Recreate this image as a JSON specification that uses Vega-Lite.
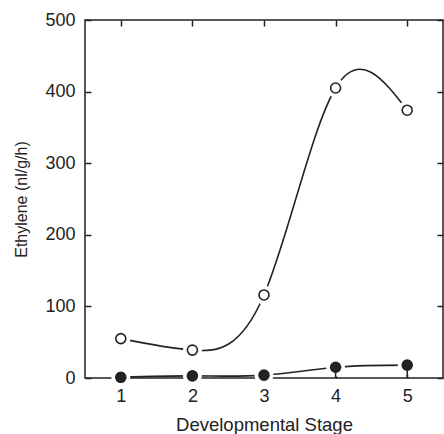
{
  "$schema": "https://vega.github.io/schema/vega-lite/v6.json",
  "width": 358,
  "height": 358,
  "autosize": "none",
  "padding": {"left": 85, "top": 20, "right": 1, "bottom": 56},
  "background": "white",
  "config": {
    "view": {"stroke": "#222", "strokeWidth": 1.5},
    "font": "Liberation Sans",
    "axis": {"grid": false, "domain": false, "tickColor": "#222", "tickWidth": 1.5, "labelColor": "#222", "titleColor": "#222", "labelFont": "Liberation Sans", "titleFont": "Liberation Sans", "labelFontSize": 18, "titleFontSize": 18, "titleFontWeight": "normal"}
  },
  "data": {
    "values": [
      {"stage": 1, "value": 55, "series": "open"},
      {"stage": 2, "value": 39, "series": "open"},
      {"stage": 3, "value": 116, "series": "open"},
      {"stage": 4, "value": 405, "series": "open"},
      {"stage": 5, "value": 374, "series": "open"},
      {"stage": 1, "value": 1, "series": "filled"},
      {"stage": 2, "value": 3, "series": "filled"},
      {"stage": 3, "value": 4, "series": "filled"},
      {"stage": 4, "value": 15, "series": "filled", "low": 0},
      {"stage": 5, "value": 18, "series": "filled", "low": 0}
    ]
  },
  "resolve": {"axis": {"x": "independent", "y": "independent"}},
  "layer": [
    {
      "mark": {"type": "line", "interpolate": "natural", "color": "#222", "strokeWidth": 1.6},
      "encoding": {
        "x": {"field": "stage", "type": "quantitative", "scale": {"domain": [0.5, 5.5], "nice": false, "zero": false},
              "axis": {"values": [1, 2, 3, 4, 5], "ticks": false, "labelPadding": 9, "title": "Developmental Stage", "titlePadding": 10, "titleFontSize": 18.5}},
        "y": {"field": "value", "type": "quantitative", "scale": {"domain": [0, 500], "nice": false},
              "axis": {"values": [0, 100, 200, 300, 400, 500], "ticks": false, "labelPadding": 10, "title": "Ethylene (nl/g/h)", "titlePadding": 15, "titleFontSize": 16}},
        "detail": {"field": "series"}
      }
    },
    {
      "mark": {"type": "circle", "color": "white", "opacity": 1, "size": 360},
      "encoding": {
        "x": {"field": "stage", "type": "quantitative", "axis": {"orient": "top", "values": [1, 2, 3, 4, 5], "labels": false, "tickSize": -6, "title": null}},
        "y": {"field": "value", "type": "quantitative", "axis": {"orient": "right", "values": [0, 100, 200, 300, 400, 500], "labels": false, "tickSize": -6, "title": null}}
      }
    },
    {
      "transform": [{"filter": "isValid(datum.low)"}],
      "mark": {"type": "rule", "color": "#222", "strokeWidth": 1.5},
      "encoding": {
        "x": {"field": "stage", "type": "quantitative", "axis": {"orient": "bottom", "values": [1, 2, 3, 4, 5], "labels": false, "tickSize": -6, "title": null}},
        "y": {"field": "low", "type": "quantitative", "axis": {"orient": "left", "values": [0, 100, 200, 300, 400, 500], "labels": false, "tickSize": -6, "title": null}},
        "y2": {"field": "value"}
      }
    },
    {
      "mark": {"type": "point", "shape": "circle", "size": 100, "strokeWidth": 1.6, "opacity": 1},
      "encoding": {
        "x": {"field": "stage", "type": "quantitative", "axis": null},
        "y": {"field": "value", "type": "quantitative", "axis": null},
        "fill": {"field": "series", "type": "nominal", "scale": {"domain": ["open", "filled"], "range": ["white", "#222"]}, "legend": null},
        "stroke": {"value": "#222"}
      }
    }
  ]
}
